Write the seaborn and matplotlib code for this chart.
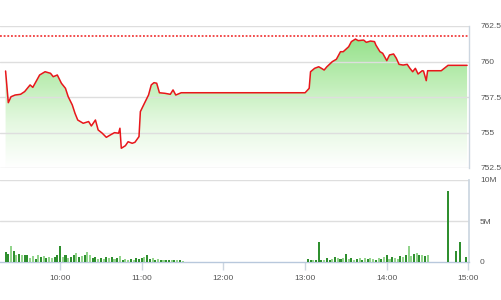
import numpy as np
import pandas as pd
import seaborn as sns
import matplotlib
matplotlib.use("Agg")
import matplotlib.pyplot as plt
from matplotlib.colors import LinearSegmentedColormap

# ---------------- data ----------------
price_times = ["09:20", "09:22", "09:24", "09:27", "09:31", "09:34", "09:38", "09:40", "09:43", "09:45",
               "09:49", "09:53", "09:55", "09:58", "10:01", "10:04", "10:06", "10:09", "10:11", "10:13",
               "10:17", "10:21", "10:23", "10:26", "10:28", "10:31", "10:34", "10:37", "10:40", "10:43",
               "10:44", "10:45", "10:48", "10:50", "10:53", "10:55", "10:58", "10:59", "11:02", "11:05",
               "11:07", "11:09", "11:11", "11:13", "11:17", "11:21", "11:23", "11:25", "11:29", "13:00",
               "13:03", "13:04", "13:07", "13:10", "13:12", "13:14", "13:16", "13:20", "13:23", "13:26",
               "13:28", "13:32", "13:34", "13:37", "13:39", "13:43", "13:45", "13:48", "13:51", "13:52",
               "13:55", "13:57", "14:00", "14:02", "14:05", "14:07", "14:09", "14:12", "14:15", "14:17",
               "14:19", "14:21", "14:23", "14:26", "14:27", "14:29", "14:30", "14:40", "14:45", "14:59"]
price_values = [759.33, 757.10, 757.52, 757.64, 757.69, 757.88, 758.35, 758.18, 758.70, 759.05,
                759.28, 759.17, 758.93, 759.05, 758.47, 758.11, 757.52, 756.94, 756.35, 755.88,
                755.65, 755.77, 755.46, 755.88, 755.18, 754.95, 754.66, 754.83, 754.99, 754.95,
                755.30, 753.89, 754.07, 754.35, 754.24, 754.31, 754.71, 756.47, 757.06, 757.64,
                758.35, 758.51, 758.47, 757.80, 757.76, 757.69, 758.00, 757.64, 757.80, 757.80,
                758.11, 759.28, 759.52, 759.63, 759.52, 759.40, 759.63, 759.99, 760.16, 760.69,
                760.69, 761.04, 761.40, 761.58, 761.47, 761.51, 761.35, 761.44, 761.40, 761.16,
                760.69, 760.58, 760.06, 760.46, 760.53, 760.23, 759.80, 759.75, 759.80, 759.52,
                759.28, 759.52, 759.12, 759.35, 759.33, 758.65, 759.35, 759.35, 759.73, 759.73]
reference_price = 761.8

vol_times = ["09:20", "09:22", "09:24", "09:26", "09:28", "09:30", "09:32", "09:34", "09:36", "09:38",
             "09:40", "09:42", "09:44", "09:46", "09:48", "09:50", "09:52", "09:54", "09:56", "09:58",
             "10:00", "10:02", "10:04", "10:06", "10:08", "10:10", "10:12", "10:14", "10:16", "10:18",
             "10:20", "10:22", "10:24", "10:26", "10:28", "10:30", "10:32", "10:34", "10:36", "10:38",
             "10:40", "10:42", "10:44", "10:46", "10:48", "10:50", "10:52", "10:54", "10:56", "10:58",
             "11:00", "11:02", "11:04", "11:06", "11:08", "11:10", "11:12", "11:14", "11:16", "11:18",
             "11:20", "11:22", "11:24", "11:26", "11:28", "11:30",
             "13:02", "13:04", "13:06", "13:08", "13:10", "13:12", "13:14", "13:16", "13:18", "13:20",
             "13:22", "13:24", "13:26", "13:28", "13:30", "13:32", "13:34", "13:36", "13:38", "13:40",
             "13:42", "13:44", "13:46", "13:48", "13:50", "13:52", "13:54", "13:56", "13:58", "14:00",
             "14:02", "14:04", "14:06", "14:08", "14:10", "14:12", "14:14", "14:16", "14:18", "14:20",
             "14:22", "14:24", "14:26", "14:28", "14:30",
             "14:39", "14:45", "14:51", "14:54", "14:58"]
vol_values = [1.2, 1.0, 2.0, 1.3, 0.9, 1.0, 0.8, 0.9, 0.8, 0.5,
              0.7, 0.4, 0.8, 0.6, 0.7, 0.5, 0.6, 0.5, 0.6, 0.8,
              2.0, 0.6, 0.9, 0.5, 0.6, 0.8, 1.1, 0.6, 0.7, 0.9,
              1.2, 0.9, 0.5, 0.6, 0.4, 0.5, 0.4, 0.6, 0.5, 0.6,
              0.4, 0.5, 0.7, 0.3, 0.4, 0.3, 0.4, 0.3, 0.5, 0.4,
              0.5, 0.6, 0.9, 0.4, 0.5, 0.3, 0.4, 0.3, 0.3, 0.2,
              0.3, 0.2, 0.2, 0.2, 0.2, 0.1,
              0.4, 0.2, 0.3, 0.2, 2.5, 0.2, 0.3, 0.5, 0.3, 0.4,
              0.6, 0.5, 0.4, 0.5, 1.0, 0.4, 0.5, 0.3, 0.4, 0.5,
              0.3, 0.5, 0.4, 0.5, 0.4, 0.3, 0.5, 0.4, 0.6, 0.8,
              0.4, 0.6, 0.5, 0.4, 0.7, 0.6, 0.9, 2.0, 0.7, 1.0,
              1.1, 0.8, 0.9, 0.7, 0.8,
              0.05, 8.7, 1.3, 2.4, 0.6]
vol_tone = ("ddldldlddl" "ldldldlldd" "dldlddldld" "llddldldld" "ldldlldldd" "dlddldldld" "dldldl"
            "ddldddlddl" "dldldldldl" "dldlldldld" "ldlldldlld" "ldld" "l"
            "ddddd")

price_ticks = [752.5, 755, 757.5, 760, 762.5]
price_tick_labels = ["752.5", "755", "757.5", "760", "762.5"]
vol_ticks = [0, 5, 10]
vol_tick_labels = ["0", "5M", "10M"]
hour_labels = ["10:00", "11:00", "12:00", "13:00", "14:00", "15:00"]


def to_min(s):
    h, m = s.split(":")
    return (int(h) - 9) * 60 + int(m)


price_df = pd.DataFrame({"t": [to_min(s) for s in price_times], "price": price_values})
vol_df = pd.DataFrame({"t": [to_min(s) for s in vol_times], "vol": vol_values,
                       "tone": list(vol_tone[:len(vol_values)])})

# ---------------- figure ----------------
sns.set_theme(style="white")
plt.rcParams["font.family"] = ["Liberation Sans", "DejaVu Sans"]

fig = plt.figure(figsize=(5.01, 3.0), dpi=100)
W, H = 501, 300
ax = fig.add_axes([0 / W, 1 - 168 / H, 469 / W, (168 - 26) / H])
axv = fig.add_axes([0 / W, 1 - 262 / H, 469 / W, (262 - 180) / H])

xmin, xmax = 15.9, 360.4
grid_c = "#dedede"
frame_c = "#ccd6e0"
text_c = "#555555"

# price gradient fill
poly = ax.fill_between(price_df["t"], price_df["price"], 752.5, color="none", lw=0)
grad = np.linspace(0, 1, 256).reshape(-1, 1)
cmap = LinearSegmentedColormap.from_list("g", ["#ffffff", "#e4f8e0", "#b9ecb0", "#8fdf84"])
im = ax.imshow(grad, extent=[xmin, xmax, 752.5, 762.2], origin="lower", aspect="auto",
               cmap=cmap, zorder=1)
im.set_clip_path(poly.get_paths()[0], transform=ax.transData)

sns.lineplot(data=price_df, x="t", y="price", ax=ax, color="#e8161b", linewidth=1.1,
             estimator=None, sort=True, zorder=4)
ax.axhline(reference_price, color="#ee1c1c", linestyle=(0, (1.2, 1.2)), linewidth=1.1, zorder=5)

ax.set_xlim(xmin, xmax)
ax.set_ylim(752.5, 762.5)
ax.set_yticks(price_ticks)
ax.set_yticklabels(price_tick_labels)
ax.yaxis.tick_right()
ax.tick_params(axis="y", length=0, pad=8, labelsize=6, labelcolor=text_c)
ax.set_xticks([])
ax.set_xlabel("")
ax.set_ylabel("")
for v in price_ticks:
    ax.axhline(v, color=grid_c, lw=1.0, zorder=2)
for s in ["left", "top", "bottom"]:
    ax.spines[s].set_visible(False)
ax.spines["right"].set_color(frame_c)
ax.spines["right"].set_linewidth(1.0)
ax.patch.set_alpha(0)

# volume bars
tone_colors = {"d": "#2f8f2f", "l": "#92d48c"}
axv.bar(vol_df["t"], vol_df["vol"], width=1.5, color=[tone_colors[c] for c in vol_df["tone"]],
        linewidth=0, zorder=3)
axv.set_xlim(xmin, xmax)
axv.set_ylim(0, 10)
axv.set_yticks(vol_ticks)
axv.set_yticklabels(vol_tick_labels)
axv.yaxis.tick_right()
axv.tick_params(axis="y", length=0, pad=8, labelsize=6, labelcolor=text_c)
for lab in axv.get_yticklabels():
    lab.set_horizontalalignment("left")
axv.axhline(5, color=grid_c, lw=1.0, zorder=1)
axv.axhline(10, color=grid_c, lw=1.0, zorder=1)
axv.set_xticks([to_min(s) for s in hour_labels])
axv.set_xticklabels(hour_labels)
axv.tick_params(axis="x", length=6, width=1.0, color=frame_c, labelsize=6, labelcolor=text_c,
                pad=3, bottom=True, direction="out")
for s in ["left", "top"]:
    axv.spines[s].set_visible(False)
axv.spines["right"].set_color(frame_c)
axv.spines["bottom"].set_color("#b8c8dc")
axv.spines["bottom"].set_linewidth(1.0)
axv.set_xlabel("")
axv.set_ylabel("")
axv.patch.set_alpha(0)

fig.savefig("out.png", dpi=100)
